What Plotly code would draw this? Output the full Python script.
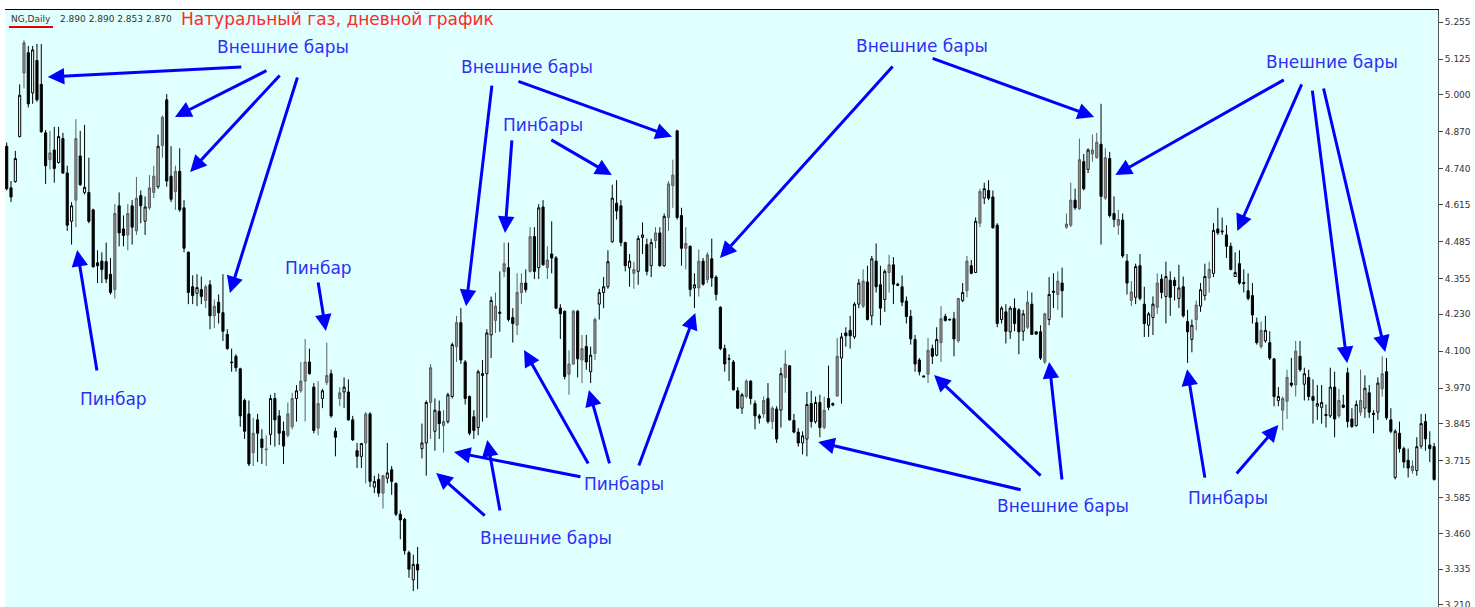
import plotly.graph_objects as go

# ── Daily OHLC of natural gas, left → right ──
OPEN = [
    4.819, 4.673, 4.695, 4.853, 5.076, 5.147, 5.006, 5.120, 5.036, 4.866, 4.772, 4.806, 4.762, 4.846, 4.725, 4.556, 4.630, 4.785, 4.657, 4.657, 4.596, 4.410, 4.416, 4.414, 4.370, 4.316, 4.610, 4.529,
    4.508, 4.610, 4.522, 4.646, 4.556, 4.603, 4.657, 4.677, 4.822, 4.982, 4.714, 4.660, 4.731, 4.603, 4.447, 4.326, 4.303, 4.316, 4.278, 4.333, 4.224, 4.272, 4.235, 4.159, 4.062, 4.082, 4.038, 3.927,
    3.880, 3.744, 3.859, 3.792, 3.754, 3.808, 3.934, 3.873, 3.819, 3.805, 3.835, 3.934, 3.961, 3.995, 4.062, 3.974, 3.830, 3.934, 3.990, 4.021, 3.819, 3.934, 3.957, 3.957, 3.859, 3.751, 3.731, 3.778,
    3.880, 3.623, 3.650, 3.602, 3.654, 3.684, 3.636, 3.528, 3.510, 3.393, 3.298, 3.352, 3.758, 3.778, 3.920, 3.819, 3.889, 3.839, 3.853, 3.941, 4.116, 4.200, 4.062, 3.941, 3.870, 3.832, 4.021, 4.021, 4.157,
    4.208, 4.237, 4.380, 4.393, 4.218, 4.191, 4.306, 4.339, 4.380, 4.502, 4.393, 4.606, 4.393, 4.441, 4.427, 4.251, 4.240, 4.019, 4.055, 4.240, 4.069, 4.116, 4.028, 4.092, 4.265, 4.306, 4.326, 4.484,
    4.619, 4.610, 4.481, 4.393, 4.373, 4.380, 4.499, 4.474, 4.400, 4.488, 4.515, 4.400, 4.569, 4.681, 4.873, 4.576, 4.461, 4.468, 4.322, 4.322, 4.416, 4.351, 4.424, 4.360, 4.254, 4.109, 4.074, 4.062,
    3.961, 3.900, 3.941, 3.995, 3.916, 3.873, 3.880, 3.934, 3.853, 3.897, 3.893, 4.008, 4.049, 3.857, 3.816, 3.778, 3.792, 3.916, 3.853, 3.920, 3.832, 3.934, 3.916, 3.943, 4.076, 4.164, 4.173, 4.150, 4.265,
    4.258, 4.343, 4.224, 4.416, 4.333, 4.281, 4.376, 4.403, 4.335, 4.326, 4.276, 4.222, 4.141, 4.069, 4.013, 4.019, 4.109, 4.086, 4.130, 4.222, 4.212, 4.214, 4.136, 4.278, 4.312, 4.400, 4.376, 4.549, 4.637,
    4.664, 4.641, 4.542, 4.211, 4.238, 4.168, 4.251, 4.245, 4.170, 4.184, 4.265, 4.168, 4.168, 4.062, 4.211, 4.306, 4.299, 4.339, 4.535, 4.542, 4.630, 4.600, 4.765, 4.738, 4.792, 4.779, 4.826, 4.637,
    4.776, 4.583, 4.542, 4.560, 4.416, 4.278, 4.289, 4.400, 4.265, 4.191, 4.218, 4.254, 4.353, 4.292, 4.349, 4.349, 4.285, 4.326, 4.204, 4.141, 4.211, 4.258, 4.295, 4.357, 4.373, 4.529, 4.522, 4.508, 4.468,
    4.362, 4.407, 4.341, 4.312, 4.295, 4.200, 4.116, 4.136, 4.130, 4.073, 3.927, 3.893, 3.924, 3.988, 3.981, 4.082, 3.984, 4.008, 3.941, 3.907, 3.903, 3.878, 3.873, 3.974, 3.873, 3.911, 4.024, 3.862,
    3.839, 3.886, 3.900, 3.954, 3.882, 3.886, 3.968, 4.028, 3.859, 3.657, 3.812, 3.758, 3.717, 3.681, 3.681, 3.767, 3.853, 3.771, 3.765,
]
HIGH = [
    4.832, 4.697, 4.803, 5.036, 5.191, 5.171, 5.171, 5.178, 5.178, 4.876, 4.873, 4.887, 4.887, 4.866, 4.751, 4.623, 4.914, 4.873, 4.894, 4.779, 4.600, 4.454, 4.447, 4.481, 4.427, 4.616, 4.657, 4.576,
    4.616, 4.630, 4.711, 4.664, 4.643, 4.718, 4.751, 4.860, 4.927, 5.002, 4.819, 4.751, 4.812, 4.630, 4.450, 4.366, 4.370, 4.362, 4.333, 4.349, 4.281, 4.299, 4.370, 4.177, 4.109, 4.089, 4.042, 3.934,
    3.927, 3.866, 3.880, 3.826, 3.805, 3.947, 3.954, 3.893, 3.853, 3.920, 3.954, 3.981, 4.062, 4.143, 4.109, 3.988, 3.995, 3.968, 4.130, 4.035, 3.832, 3.974, 4.008, 4.001, 3.873, 3.778, 3.778, 3.886,
    3.886, 3.663, 3.670, 3.666, 3.778, 3.697, 3.640, 3.542, 3.515, 3.400, 3.386, 3.413, 3.846, 3.927, 4.055, 3.934, 3.927, 3.893, 3.954, 4.130, 4.224, 4.251, 4.069, 3.945, 3.893, 4.035, 4.069, 4.177, 4.292,
    4.306, 4.380, 4.481, 4.481, 4.251, 4.373, 4.373, 4.387, 4.535, 4.535, 4.616, 4.630, 4.468, 4.556, 4.434, 4.265, 4.243, 4.103, 4.245, 4.245, 4.157, 4.157, 4.116, 4.218, 4.319, 4.360, 4.454, 4.684,
    4.700, 4.630, 4.484, 4.441, 4.414, 4.506, 4.552, 4.495, 4.495, 4.535, 4.535, 4.583, 4.697, 4.772, 4.877, 4.603, 4.535, 4.471, 4.373, 4.457, 4.427, 4.447, 4.495, 4.366, 4.258, 4.123, 4.089, 4.069,
    3.974, 3.954, 4.001, 3.998, 3.927, 3.880, 3.941, 3.988, 3.907, 3.907, 4.042, 4.103, 4.051, 3.880, 3.830, 3.819, 3.957, 3.961, 3.941, 3.947, 3.941, 4.049, 3.920, 4.146, 4.164, 4.184, 4.224, 4.272, 4.353,
    4.387, 4.400, 4.434, 4.478, 4.400, 4.387, 4.438, 4.430, 4.340, 4.366, 4.292, 4.245, 4.157, 4.076, 4.015, 4.146, 4.123, 4.184, 4.258, 4.231, 4.214, 4.238, 4.287, 4.339, 4.434, 4.420, 4.569, 4.670, 4.691,
    4.700, 4.664, 4.549, 4.258, 4.265, 4.258, 4.285, 4.251, 4.245, 4.312, 4.306, 4.170, 4.191, 4.235, 4.360, 4.373, 4.380, 4.393, 4.583, 4.691, 4.670, 4.846, 4.792, 4.812, 4.860, 4.866, 4.968, 4.812,
    4.799, 4.643, 4.596, 4.583, 4.441, 4.346, 4.407, 4.441, 4.326, 4.238, 4.292, 4.373, 4.370, 4.414, 4.380, 4.360, 4.403, 4.362, 4.245, 4.211, 4.278, 4.339, 4.407, 4.414, 4.549, 4.603, 4.569, 4.542, 4.481,
    4.447, 4.454, 4.387, 4.373, 4.339, 4.218, 4.204, 4.224, 4.170, 4.076, 3.974, 3.941, 4.035, 4.076, 4.136, 4.136, 4.042, 4.035, 4.001, 3.981, 3.981, 3.913, 4.042, 4.028, 3.968, 3.947, 4.042, 3.900,
    3.927, 4.035, 4.015, 3.981, 3.893, 4.008, 4.082, 4.076, 3.900, 3.826, 3.853, 3.765, 3.758, 3.717, 3.798, 3.880, 3.880, 3.819, 3.778,
]
LOW = [
    4.664, 4.623, 4.691, 4.850, 5.022, 4.955, 4.968, 4.975, 4.866, 4.687, 4.738, 4.691, 4.758, 4.722, 4.522, 4.474, 4.535, 4.680, 4.650, 4.549, 4.393, 4.339, 4.339, 4.339, 4.299, 4.285, 4.468, 4.468,
    4.454, 4.474, 4.508, 4.549, 4.508, 4.596, 4.637, 4.670, 4.779, 4.677, 4.623, 4.596, 4.589, 4.447, 4.265, 4.265, 4.258, 4.265, 4.251, 4.177, 4.181, 4.197, 4.136, 4.105, 4.028, 4.028, 3.835, 3.792,
    3.697, 3.697, 3.711, 3.704, 3.697, 3.771, 3.765, 3.771, 3.704, 3.798, 3.826, 3.853, 3.954, 3.853, 4.018, 3.812, 3.805, 3.900, 3.981, 3.866, 3.731, 3.907, 3.900, 3.856, 3.785, 3.690, 3.690, 3.636,
    3.623, 3.602, 3.589, 3.548, 3.636, 3.596, 3.521, 3.440, 3.386, 3.305, 3.258, 3.265, 3.724, 3.663, 3.792, 3.751, 3.792, 3.744, 3.846, 3.934, 4.062, 4.055, 3.913, 3.805, 3.792, 3.805, 3.853, 3.866, 4.076,
    4.164, 4.168, 4.360, 4.204, 4.130, 4.157, 4.265, 4.306, 4.376, 4.353, 4.353, 4.400, 4.353, 4.373, 4.248, 4.143, 4.001, 3.947, 4.052, 4.008, 3.988, 4.035, 3.988, 4.069, 4.211, 4.251, 4.319, 4.480,
    4.562, 4.468, 4.380, 4.326, 4.319, 4.333, 4.441, 4.366, 4.360, 4.461, 4.396, 4.396, 4.522, 4.603, 4.562, 4.400, 4.387, 4.292, 4.251, 4.292, 4.330, 4.339, 4.326, 4.278, 4.103, 4.028, 3.995, 3.961,
    3.897, 3.880, 3.934, 3.913, 3.826, 3.846, 3.866, 3.846, 3.826, 3.778, 3.832, 3.954, 3.856, 3.812, 3.765, 3.738, 3.731, 3.832, 3.846, 3.798, 3.826, 3.893, 3.907, 3.941, 3.916, 4.116, 4.109, 4.143, 4.251,
    4.251, 4.208, 4.191, 4.306, 4.191, 4.238, 4.306, 4.265, 4.328, 4.258, 4.197, 4.123, 4.028, 4.015, 4.008, 3.988, 4.055, 4.082, 4.062, 4.204, 4.208, 4.082, 4.130, 4.272, 4.289, 4.370, 4.374, 4.535, 4.616,
    4.630, 4.530, 4.184, 4.197, 4.127, 4.143, 4.170, 4.089, 4.136, 4.177, 4.157, 4.157, 4.069, 4.055, 4.191, 4.251, 4.245, 4.218, 4.529, 4.535, 4.596, 4.596, 4.664, 4.725, 4.765, 4.776, 4.474, 4.630,
    4.569, 4.535, 4.508, 4.427, 4.299, 4.258, 4.265, 4.278, 4.150, 4.150, 4.157, 4.231, 4.285, 4.197, 4.224, 4.278, 4.251, 4.218, 4.059, 4.096, 4.173, 4.238, 4.278, 4.306, 4.360, 4.508, 4.508, 4.427, 4.384,
    4.360, 4.333, 4.306, 4.278, 4.197, 4.123, 4.109, 4.130, 4.069, 3.907, 3.907, 3.822, 3.862, 3.974, 3.941, 4.028, 3.927, 3.927, 3.846, 3.859, 3.846, 3.832, 3.866, 3.798, 3.866, 3.900, 3.832, 3.832,
    3.835, 3.873, 3.866, 3.866, 3.812, 3.859, 3.941, 3.859, 3.812, 3.650, 3.744, 3.690, 3.657, 3.670, 3.663, 3.758, 3.751, 3.711, 3.646,
]
CLOSE = [
    4.670, 4.641, 4.776, 4.998, 5.182, 4.968, 5.157, 4.982, 4.870, 4.751, 4.796, 4.741, 4.853, 4.725, 4.542, 4.610, 4.846, 4.684, 4.675, 4.556, 4.396, 4.400, 4.387, 4.353, 4.306, 4.583, 4.515, 4.506,
    4.583, 4.535, 4.637, 4.610, 4.606, 4.673, 4.714, 4.819, 4.921, 4.697, 4.633, 4.731, 4.596, 4.461, 4.306, 4.295, 4.323, 4.292, 4.326, 4.224, 4.258, 4.235, 4.170, 4.109, 4.060, 4.042, 3.873, 3.819,
    3.704, 3.812, 3.812, 3.762, 3.756, 3.934, 3.859, 3.812, 3.767, 3.880, 3.934, 3.961, 3.995, 4.062, 4.021, 3.822, 3.916, 3.961, 4.015, 3.873, 3.798, 3.954, 3.974, 3.859, 3.789, 3.731, 3.776, 3.880,
    3.643, 3.643, 3.602, 3.663, 3.673, 3.643, 3.528, 3.508, 3.400, 3.335, 3.352, 3.332, 3.778, 3.920, 4.042, 3.893, 3.846, 3.853, 3.947, 4.123, 4.200, 4.069, 3.934, 3.812, 3.822, 4.028, 4.015, 4.164, 4.278,
    4.258, 4.233, 4.407, 4.211, 4.197, 4.306, 4.339, 4.316, 4.502, 4.380, 4.603, 4.403, 4.420, 4.427, 4.251, 4.231, 4.011, 4.055, 4.240, 4.073, 4.109, 4.062, 4.086, 4.211, 4.306, 4.326, 4.414, 4.637,
    4.592, 4.481, 4.400, 4.416, 4.387, 4.495, 4.508, 4.380, 4.481, 4.515, 4.400, 4.573, 4.687, 4.718, 4.569, 4.461, 4.478, 4.316, 4.333, 4.416, 4.335, 4.438, 4.357, 4.299, 4.109, 4.055, 4.072, 3.965,
    3.900, 3.947, 3.995, 3.934, 3.873, 3.865, 3.927, 3.853, 3.900, 3.792, 4.021, 4.055, 3.859, 3.816, 3.778, 3.803, 3.913, 3.853, 3.920, 3.832, 3.893, 3.903, 3.911, 4.082, 4.150, 4.154, 4.154, 4.265, 4.339,
    4.346, 4.211, 4.424, 4.326, 4.251, 4.380, 4.403, 4.335, 4.331, 4.272, 4.222, 4.143, 4.055, 4.028, 4.010, 4.103, 4.082, 4.141, 4.214, 4.208, 4.210, 4.143, 4.285, 4.306, 4.416, 4.373, 4.556, 4.660, 4.670,
    4.637, 4.533, 4.197, 4.251, 4.170, 4.251, 4.197, 4.168, 4.231, 4.272, 4.159, 4.160, 4.076, 4.231, 4.299, 4.310, 4.346, 4.312, 4.546, 4.630, 4.603, 4.772, 4.670, 4.806, 4.806, 4.833, 4.643, 4.779,
    4.576, 4.562, 4.562, 4.434, 4.339, 4.308, 4.397, 4.285, 4.197, 4.231, 4.265, 4.339, 4.306, 4.362, 4.289, 4.330, 4.322, 4.224, 4.168, 4.191, 4.262, 4.316, 4.362, 4.387, 4.524, 4.515, 4.519, 4.468, 4.387,
    4.376, 4.339, 4.337, 4.285, 4.227, 4.130, 4.173, 4.173, 4.076, 3.941, 3.941, 3.934, 4.008, 3.981, 4.100, 4.035, 4.021, 3.941, 3.927, 3.916, 3.920, 3.874, 3.974, 3.862, 3.927, 3.903, 3.853, 3.835,
    3.913, 3.927, 3.970, 3.886, 3.878, 3.988, 4.021, 3.866, 3.819, 3.819, 3.758, 3.711, 3.690, 3.697, 3.765, 3.846, 3.792, 3.758, 3.650,
]
# candle colour as the terminal draws it: w = white, b = black, g = grey
KIND = (
    "bbwwgbwbbbgbwbbwgbwbbbbbbgbb"
    "gbgbwggwgbbgbbbbwbgbgbbbbbbb"
    "bgbbgwbbbggwggbbgwgbbgwbbbwg"
    "bwbgwbbbbbwbwwgwbgwwgbbbbwbww"
    "gbgbbggbgbwbgbbbbggbgbwgwwww"
    "bbbwgwwbwgbwggbbgbwgbgbbbbbb"
    "bwgbbbgbgbwgbbbwwbwbgbbgwbbww"
    "gbwbbwgbbbbbbbbgbwgbbbgwgbwgw"
    "bbbwbwbbwgbbbgwwgbggbgbwggbg"
    "bbgbbgwbbwwgbwbbwbbwgwwgwbbbb"
    "wbbbbbgwbbwggbgbwbbwwbwbgbbb"
    "wgwbbwgbbwbbbgwwbbb"
)

PRICE_TICKS = [5.255, 5.125, 5.000, 4.870, 4.740, 4.615, 4.485, 4.355, 4.230,
               4.100, 3.970, 3.845, 3.715, 3.585, 3.460, 3.335, 3.210]
QUOTE = "2.890 2.890 2.853 2.870"

# ── Style ─────────────────────────────────────────────────────────────
W, H = 1475, 607
M_L, M_R, M_T, M_B = 5, 37, 10, 0
BG = "#E0FFFF"
ARROW = "#0000FF"
LABEL_BLUE = "#2F2FF5"
RED = "#FF2A2A"
FONT = "DejaVu Sans"

CANDLE_STYLE = {
    "w": ("#FFFFFF", "#000000"),
    "b": ("#000000", "#000000"),
    "g": ("#8C8C8C", "#5E5E5E"),
}

fig = go.Figure()
for kind, (fill, line) in CANDLE_STYLE.items():
    idx = [i for i, k in enumerate(KIND) if k == kind]
    look = dict(fillcolor=fill, line=dict(color=line, width=1))
    fig.add_trace(go.Candlestick(
        x=idx,
        open=[OPEN[i] for i in idx],
        high=[HIGH[i] for i in idx],
        low=[LOW[i] for i in idx],
        close=[CLOSE[i] for i in idx],
        increasing=look,
        decreasing=look,
        whiskerwidth=0,
        showlegend=False,
        hoverinfo="skip",
    ))

PLOT_W = W - M_L - M_R
PLOT_H = H - M_T - M_B


def paper(px, py):
    """Screen pixel of the reference → paper coordinates."""
    return (px - M_L) / PLOT_W, 1 - (py - M_T) / PLOT_H


annotations = []

# header: symbol, last quote, red caption
for px, text, color, size in [
    (9, "NG,Daily", "#333333", 9),
    (58, QUOTE, "#333333", 9),
    (179, "Натуральный газ, дневной график", RED, 17),
]:
    x, y = paper(px, 19)
    annotations.append(dict(
        x=x, y=y, xref="paper", yref="paper", text=text, showarrow=False,
        xanchor="left", yanchor="middle",
        font=dict(family=FONT, size=size, color=color),
    ))

# blue labels (centre pixel, text)
LABELS = [
    (283, 47, "Внешние бары"),
    (113, 399, "Пинбар"),
    (318, 268, "Пинбар"),
    (527, 67, "Внешние бары"),
    (543, 125, "Пинбары"),
    (624, 484, "Пинбары"),
    (546, 538, "Внешние бары"),
    (922, 46, "Внешние бары"),
    (1063, 506, "Внешние бары"),
    (1332, 62, "Внешние бары"),
    (1228, 498, "Пинбары"),
]
for px, py, text in LABELS:
    x, y = paper(px, py)
    annotations.append(dict(
        x=x, y=y, xref="paper", yref="paper", text=text, showarrow=False,
        xanchor="center", yanchor="middle",
        font=dict(family=FONT, size=17, color=LABEL_BLUE),
    ))

# arrows: tip at (bar index, price), tail as pixel offset from the tip
ARROWS = [
    (9.5, 5.062, 195, -10), (38.9, 4.922, 93, -47), (42.4, 4.729, 91, -98),
    (51.6, 4.304, 68, -217), (16.3, 4.455, 20, 122), (73.8, 4.171, -8, -50),
    (106.2, 4.258, 26, -222), (153.8, 4.852, -155, -56), (115.2, 4.515, 7, -94),
    (139.9, 4.718, -62, -36), (103.4, 3.746, 128, 25), (119.6, 4.104, 65, 115),
    (134.6, 3.964, 21, 75), (159.2, 4.234, -57, 154), (99.3, 3.673, 50, 44),
    (111.1, 3.788, 13, 72), (164.9, 4.427, 174, -193), (251.4, 4.922, -163, -59),
    (187.6, 3.781, 204, 48), (214.4, 4.016, 108, 102), (241.0, 4.062, 13, 119),
    (256.3, 4.718, 170, -96), (284.5, 4.522, 65, -148), (309.9, 4.058, -35, -274),
    (318.7, 4.097, -62, -265), (272.9, 4.037, 18, 110), (294.0, 3.841, -43, 50),
]
for bx, price, dx, dy in ARROWS:
    annotations.append(dict(
        x=bx, y=price, xref="x", yref="y", ax=dx, ay=dy, text="",
        showarrow=True, arrowhead=2, arrowsize=1.1, arrowwidth=3,
        arrowcolor=ARROW,
    ))

ux0, uy = paper(9, 27)
ux1, _ = paper(53, 27)

fig.update_layout(
    width=W, height=H,
    margin=dict(l=M_L, r=M_R, t=M_T, b=M_B),
    paper_bgcolor="white",
    plot_bgcolor=BG,
    showlegend=False,
    annotations=annotations,
    shapes=[dict(type="line", xref="paper", yref="paper",
                 x0=ux0, x1=ux1, y0=uy, y1=uy,
                 line=dict(color="#E00000", width=2))],
    xaxis=dict(
        range=[-0.39, 330.9],
        side="top",
        showline=True, linecolor="#000000", linewidth=1,
        showgrid=False, zeroline=False, showticklabels=False, ticks="",
        rangeslider=dict(visible=False),
        fixedrange=True,
        automargin=False,
    ),
    yaxis=dict(
        range=[3.2024, 5.2971],
        side="right",
        tickvals=PRICE_TICKS,
        ticktext=[f"{v:.3f}" for v in PRICE_TICKS],
        ticks="outside", ticklen=4, tickcolor="#444444",
        tickfont=dict(family=FONT, size=9, color="#333333"),
        ticklabeloverflow="allow",
        automargin=False,
        showline=True, linecolor="#555555", linewidth=1,
        showgrid=False, zeroline=False,
        fixedrange=True,
    ),
)

# the page's default body margin would shift the figure off the window
fig.write_html(
    "out.html",
    config={"displayModeBar": False},
    post_script="document.body.style.margin='0';document.body.style.overflow='hidden';",
)
